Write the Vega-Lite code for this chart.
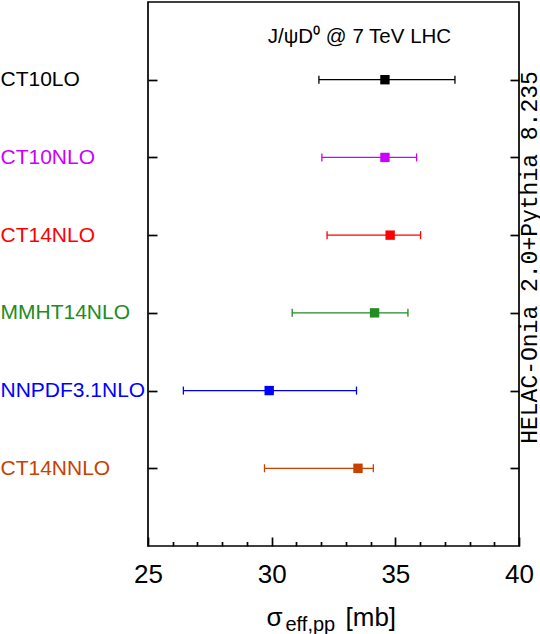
{
  "$schema": "https://vega.github.io/schema/vega-lite/v6.json",
  "description": "Effective cross section sigma_eff,pp for J/psi D0 at 7 TeV LHC, one row per PDF set, with error bars.",
  "width": 371,
  "height": 544,
  "padding": {"left": 0, "top": 2, "right": 0, "bottom": 0},
  "config": {
    "view": {"stroke": "black", "strokeWidth": 1.7},
    "axis": {
      "grid": false,
      "domain": false,
      "tickColor": "black",
      "tickWidth": 1.7,
      "labelColor": "black",
      "titleColor": "black",
      "labelFont": "Liberation Sans",
      "titleFont": "Liberation Sans",
      "titleFontWeight": "normal"
    }
  },
  "data": {
    "values": [
      {"pdf": "CT10LO", "row": 1, "lo": 31.91, "mid": 34.58, "hi": 37.41},
      {"pdf": "CT10NLO", "row": 2, "lo": 32.03, "mid": 34.58, "hi": 35.86},
      {"pdf": "CT14NLO", "row": 3, "lo": 32.24, "mid": 34.79, "hi": 36.02},
      {"pdf": "MMHT14NLO", "row": 4, "lo": 30.83, "mid": 34.16, "hi": 35.51},
      {"pdf": "NNPDF3.1NLO", "row": 5, "lo": 26.43, "mid": 29.9, "hi": 33.43},
      {"pdf": "CT14NNLO", "row": 6, "lo": 29.71, "mid": 33.49, "hi": 34.11}
    ]
  },
  "resolve": {"axis": {"x": "independent", "y": "independent"}},
  "layer": [
    {
      "mark": {"type": "rule", "strokeWidth": 1.3},
      "encoding": {
        "x": {
          "field": "lo",
          "type": "quantitative",
          "scale": {"domain": [25, 40], "nice": false, "zero": false},
          "axis": {
            "orient": "bottom",
            "values": [25, 30, 35, 40],
            "tickSize": -9,
            "labelFontSize": 26,
            "labelPadding": 24,
            "labelFlush": false,
            "title": "σ",
            "titleFontSize": 26,
            "titleAlign": "left",
            "titleBaseline": "alphabetic",
            "titleX": 118,
            "titleY": 79
          }
        },
        "x2": {"field": "hi"},
        "y": {
          "field": "row",
          "type": "quantitative",
          "scale": {"domain": [0, 7], "reverse": true, "nice": false, "zero": false},
          "axis": {
            "orient": "left",
            "values": [1, 2, 3, 4, 5, 6],
            "tickSize": -9,
            "labelAlign": "left",
            "labelBaseline": "middle",
            "labelPadding": 157,
            "labelFontSize": 21,
            "labelExpr": "['', 'CT10LO', 'CT10NLO', 'CT14NLO', 'MMHT14NLO', 'NNPDF3.1NLO', 'CT14NNLO'][datum.value]",
            "labelColor": {"expr": "['black', 'black', '#cc00ff', '#ff0000', '#228b22', '#0000ff', '#c84100'][datum.value]"},
            "title": null
          }
        },
        "color": {
          "field": "pdf",
          "type": "nominal",
          "scale": {
            "domain": ["CT10LO", "CT10NLO", "CT14NLO", "MMHT14NLO", "NNPDF3.1NLO", "CT14NNLO"],
            "range": ["black", "#cc00ff", "#ff0000", "#228b22", "#0000ff", "#c84100"]
          },
          "legend": null
        }
      }
    },
    {
      "mark": {"type": "tick", "orient": "vertical", "size": 8, "thickness": 1.3, "opacity": 1},
      "encoding": {
        "x": {
          "field": "lo",
          "type": "quantitative",
          "axis": {
            "orient": "bottom",
            "ticks": false,
            "labels": false,
            "title": "[mb]",
            "titleFontSize": 26,
            "titleAlign": "left",
            "titleBaseline": "alphabetic",
            "titleX": 197,
            "titleY": 79
          }
        },
        "y": {"field": "row", "type": "quantitative", "axis": null},
        "color": {"field": "pdf", "type": "nominal", "legend": null}
      }
    },
    {
      "mark": {"type": "tick", "orient": "vertical", "size": 8, "thickness": 1.3, "opacity": 1},
      "encoding": {
        "x": {"field": "hi", "type": "quantitative", "axis": null},
        "y": {"field": "row", "type": "quantitative", "axis": null},
        "color": {"field": "pdf", "type": "nominal", "legend": null}
      }
    },
    {
      "mark": {"type": "point", "shape": "square", "filled": true, "size": 88, "opacity": 1},
      "encoding": {
        "x": {
          "field": "mid",
          "type": "quantitative",
          "axis": {
            "orient": "bottom",
            "values": [26, 27, 28, 29, 31, 32, 33, 34, 36, 37, 38, 39],
            "tickSize": -4.5,
            "labels": false,
            "title": "eff,pp",
            "titleFontSize": 20,
            "titleAlign": "left",
            "titleBaseline": "alphabetic",
            "titleX": 137,
            "titleY": 84
          }
        },
        "y": {
          "field": "row",
          "type": "quantitative",
          "axis": {
            "orient": "right",
            "values": [1, 2, 3, 4, 5, 6],
            "tickSize": -9,
            "labels": false,
            "title": "HELAC-Onia 2.0+Pythia 8.235",
            "titleFont": "Liberation Mono",
            "titleFontSize": 23,
            "titleAngle": 270,
            "titleAlign": "center",
            "titleBaseline": "middle",
            "titleX": 10,
            "titleY": 255
          }
        },
        "color": {"field": "pdf", "type": "nominal", "legend": null}
      }
    },
    {
      "data": {"values": [{"note": "J/ψD⁰ @ 7 TeV LHC"}]},
      "mark": {"type": "text", "font": "Liberation Sans", "fontSize": 20.5, "color": "black", "align": "center", "baseline": "middle"},
      "encoding": {
        "x": {"datum": 33.55, "type": "quantitative", "axis": null},
        "y": {"datum": 0.45, "type": "quantitative", "axis": null},
        "text": {"field": "note"}
      }
    }
  ]
}
